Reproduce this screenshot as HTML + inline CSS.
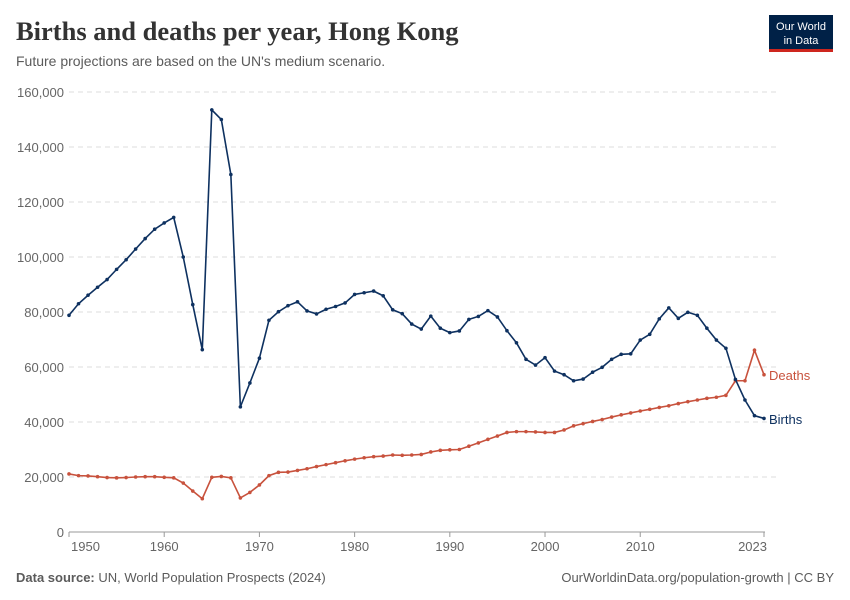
<!DOCTYPE html>
<html><head><meta charset="utf-8"><style>
body{margin:0;background:#fff;font-family:"Liberation Sans",sans-serif}
#wrap{position:relative;width:850px;height:600px;overflow:hidden}
</style></head><body>
<div id="wrap">
<svg id="chart" width="850" height="600" xmlns="http://www.w3.org/2000/svg">
<text x="16" y="40" font-family="Liberation Serif,serif" font-weight="bold" font-size="26.5" fill="#333">Births and deaths per year, Hong Kong</text>
<text x="16" y="66" font-size="14" fill="#5b5b5b">Future projections are based on the UN's medium scenario.</text>
<g>
<rect x="769" y="15" width="64" height="36" fill="#002147"/>
<rect x="769" y="49" width="64" height="3" fill="#ce261e"/>
<text x="801" y="30" font-size="11" fill="#fff" text-anchor="middle">Our World</text>
<text x="801" y="44" font-size="11" fill="#fff" text-anchor="middle">in Data</text>
</g>
<g id="grid"></g><g id="ylabels"></g><g id="xlabels"></g><g id="series"></g>
<text x="16" y="582" font-size="13" fill="#5b5b5b"><tspan font-weight="bold">Data source:</tspan> UN, World Population Prospects (2024)</text>
<text x="834" y="582" font-size="13" fill="#5b5b5b" text-anchor="end">OurWorldinData.org/population-growth | CC BY</text>
</svg>
</div>
<script>
const years=[];for(let y=1950;y<=2023;y++)years.push(y);
const births=[78.8,83.0,86.1,89.0,91.8,95.5,99.0,102.9,106.7,110.1,112.4,114.4,100.0,82.7,66.3,153.5,150.0,130.0,45.5,54.2,63.2,77.0,80.1,82.3,83.7,80.4,79.3,81.0,82.0,83.3,86.4,87.0,87.6,85.9,80.8,79.4,75.6,73.8,78.5,74.1,72.5,73.1,77.3,78.4,80.5,78.2,73.2,68.8,62.8,60.7,63.4,58.5,57.2,55.0,55.6,58.1,59.9,62.8,64.6,64.8,69.8,71.9,77.5,81.5,77.7,79.9,78.8,74.1,69.8,66.8,55.5,48.0,42.3,41.3];
const deaths=[21.1,20.5,20.4,20.1,19.8,19.7,19.8,20.0,20.1,20.1,19.9,19.7,17.8,14.9,12.1,19.9,20.2,19.7,12.4,14.4,17.1,20.5,21.7,21.8,22.4,23.0,23.8,24.5,25.2,25.9,26.5,27.0,27.4,27.6,28.0,27.9,28.0,28.2,29.1,29.7,29.9,30.0,31.2,32.4,33.7,34.9,36.2,36.5,36.5,36.4,36.2,36.2,37.1,38.6,39.4,40.2,40.9,41.8,42.6,43.3,44.0,44.6,45.3,45.9,46.7,47.4,48.0,48.6,49.0,49.7,55.0,55.0,66.1,57.2];
const yTicks=[0,20000,40000,60000,80000,100000,120000,140000,160000];
const xTicks=[1950,1960,1970,1980,1990,2000,2010,2023];
const NS="http://www.w3.org/2000/svg";
const X=y=>69+(y-1950)*(695/73);
const Y=v=>532-v*(440/160000);
function mk(t,a,p){const e=document.createElementNS(NS,t);for(const k in a)e.setAttribute(k,a[k]);p.appendChild(e);return e;}
const grid=document.getElementById('grid'),yl=document.getElementById('ylabels'),xl=document.getElementById('xlabels'),ser=document.getElementById('series');
yTicks.forEach(v=>{
 if(v>0){const l=mk('line',{x1:69,x2:780,y1:Y(v),y2:Y(v),stroke:'#ddd','stroke-dasharray':'5,4'},grid);
 
 }
 const t=mk('text',{x:64,y:Y(v)+5,'text-anchor':'end','font-size':'13',fill:'#666'},yl);t.textContent=v.toLocaleString('en-US');
 
 
});
const ax=mk('line',{x1:69,x2:765,y1:532,y2:532,stroke:'#999'},grid);


xTicks.forEach(yr=>{
 const tk=mk('line',{x1:X(yr),x2:X(yr),y1:532,y2:537,stroke:'#999'},xl);
 
 
 const anchor=yr===1950?'start':(yr===2023?'end':'middle');
 const t=mk('text',{x:yr===1950?71:(yr===2023?767:X(yr)),y:551,'text-anchor':anchor,'font-size':'13',fill:'#666'},xl);t.textContent=yr;
 
 
});
function draw(vals,color,name,label,ly){
 const g=mk('g',{},ser);
 
 
 const pts=vals.map((v,i)=>X(years[i])+','+Y(v*1000)).join(' ');
 const pl=mk('polyline',{points:pts,fill:'none',stroke:color,'stroke-width':'1.6'},g);
 
 
 vals.forEach((v,i)=>{const c=mk('circle',{cx:X(years[i]),cy:Y(v*1000),r:1.8,fill:color},g);
 
 });
 const t=mk('text',{x:769,y:ly,'font-size':'13',fill:color},g);t.textContent=label;
 
 
}
draw(deaths,'#c8523d','deaths','Deaths',380);
draw(births,'#0e3160','births','Births',424);
</script>
</body></html>
